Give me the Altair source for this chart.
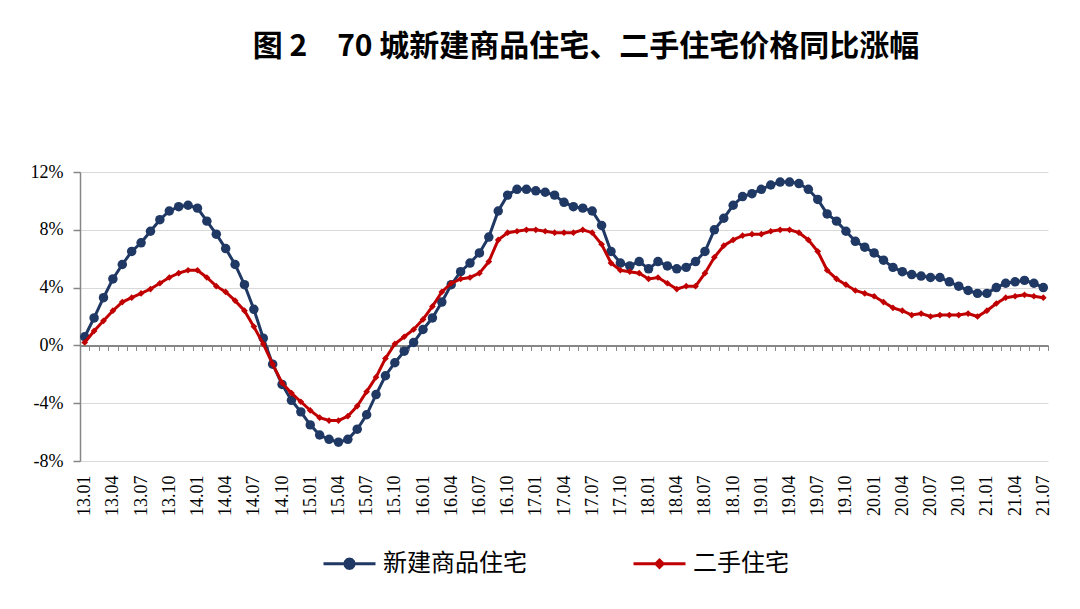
import json
import altair as alt
import pandas as pd

# ---------------- data ----------------
months = [f"{y:02d}.{m:02d}" for y in range(13, 22) for m in range(1, 13)][:103]

new_home = [
    0.6, 1.9, 3.3, 4.6, 5.6, 6.5, 7.1, 7.9, 8.7, 9.3, 9.6, 9.7,
    9.5, 8.6, 7.7, 6.7, 5.6, 4.2, 2.5, 0.5, -1.3, -2.7, -3.8, -4.6,
    -5.5, -6.2, -6.5, -6.7, -6.5, -5.8, -4.8, -3.4, -2.1, -1.2, -0.4, 0.2,
    1.1, 1.9, 3.0, 4.2, 5.1, 5.7, 6.4, 7.5, 9.3, 10.4, 10.8, 10.8,
    10.7, 10.6, 10.4, 9.9, 9.6, 9.5, 9.3, 8.3, 6.5, 5.7, 5.5, 5.8,
    5.3, 5.8, 5.5, 5.3, 5.4, 5.8, 6.5, 8.0, 8.8, 9.7, 10.3, 10.5,
    10.8, 11.1, 11.3, 11.3, 11.2, 10.8, 10.1, 9.1, 8.6, 7.9, 7.2, 6.8,
    6.4, 5.9, 5.4, 5.1, 4.9, 4.8, 4.7, 4.7, 4.4, 4.1, 3.8, 3.6,
    3.6, 4.0, 4.3, 4.4, 4.5, 4.3, 4.0,
]

second_hand = [
    0.2, 1.0, 1.7, 2.4, 3.0, 3.3, 3.6, 3.9, 4.3, 4.7, 5.0, 5.2,
    5.2, 4.7, 4.1, 3.7, 3.1, 2.4, 1.3, 0.1, -1.3, -2.6, -3.3, -3.9,
    -4.5, -5.0, -5.2, -5.2, -4.9, -4.2, -3.2, -2.2, -0.9, 0.1, 0.6, 1.1,
    1.8, 2.7, 3.7, 4.3, 4.6, 4.7, 5.0, 5.8, 7.3, 7.8, 7.9, 8.0,
    8.0, 7.9, 7.8, 7.8, 7.8, 8.0, 7.8, 7.0, 5.7, 5.2, 5.1, 5.0,
    4.6, 4.7, 4.3, 3.9, 4.1, 4.1, 5.0, 6.1, 6.9, 7.3, 7.6, 7.7,
    7.7, 7.9, 8.0, 8.0, 7.8, 7.3, 6.5, 5.2, 4.6, 4.2, 3.8, 3.6,
    3.4, 3.0, 2.6, 2.4, 2.1, 2.2, 2.0, 2.1, 2.1, 2.1, 2.2, 2.0,
    2.4, 2.9, 3.3, 3.4, 3.5, 3.4, 3.3,
]

series_names = ["新建商品住宅", "二手住宅"]
series_colors = ["#1F3864", "#C00000"]
y_ticks = [-8, -4, 0, 4, 8, 12]
label_positions = list(range(0, len(months), 3))
title_text = "图 2　70 城新建商品住宅、二手住宅价格同比涨幅"

n = len(months)
df = pd.DataFrame({
    "idx": list(range(n)) * 2,
    "month": months * 2,
    "value": new_home + second_hand,
    "series": [series_names[0]] * n + [series_names[1]] * n,
})

# ---------------- layout / style ----------------
W, H = 968, 289
YMIN, YMAX = y_ticks[0], y_ticks[-1]
zero_offset = -H * (0 - YMIN) / (YMAX - YMIN)
GRAY = "#868686"
SERIF = "Liberation Serif"
CJK = "Noto Sans CJK SC"

x_scale = alt.Scale(domain=[-0.5, n - 0.5], nice=False, zero=False)
y_scale = alt.Scale(domain=[YMIN, YMAX], nice=False, zero=False)

tick_axis = alt.Axis(
    orient="bottom", offset=zero_offset,
    values=[i - 0.5 for i in range(n + 1)],
    labels=False, ticks=True, tickSize=5, tickColor=GRAY, tickWidth=1,
    domain=True, domainColor=GRAY, domainWidth=2, grid=False,
)
label_axis = alt.Axis(
    orient="bottom", values=label_positions,
    labelExpr=f"{json.dumps(months)}[datum.value]",
    labelAngle=-90, labelAlign="right", labelBaseline="middle",
    labelFont=SERIF, labelFontSize=18, labelColor="black", labelPadding=14,
    labelOverlap=False, labelFlush=False,
    ticks=False, domain=False, grid=False,
)
y_axis = alt.Axis(
    values=y_ticks, labelExpr="datum.value + '%'",
    grid=True, gridColor="#D9D9D9", gridWidth=1,
    domain=True, domainColor=GRAY, domainWidth=1.5,
    ticks=True, tickSize=7, tickColor=GRAY, tickWidth=1.5,
    labelFont=SERIF, labelFontSize=18, labelColor="black", labelPadding=10,
)
y_enc = alt.Y("value:Q", scale=y_scale, title=None, axis=y_axis)

# legend symbols: a line segment with the series marker on it
blue_path = ("M-1,0L1,0M0.18,0L0.156,0.09L0.09,0.156L0,0.18L-0.09,0.156L-0.156,0.09"
             "L-0.18,0L-0.156,-0.09L-0.09,-0.156L0,-0.18L0.09,-0.156L0.156,-0.09Z")
red_path = "M-1,0L1,0M0,-0.14L0.14,0L0,0.14L-0.14,0Z"
legend = alt.Legend(
    orient="none", legendX=242, legendY=364, direction="horizontal", title=None,
    symbolSize=2704, symbolStrokeWidth=3, symbolOpacity=1,
    labelFont=CJK, labelFontSize=24, labelColor="black", labelOffset=6,
    columnPadding=100, padding=0,
)
color_scale = alt.Scale(domain=series_names, range=series_colors)
color_enc = alt.Color("series:N", scale=color_scale, legend=None)

base = alt.Chart(df)
layers = []

# legend-carrying layer (marks invisible; only its legend is shown)
legend_layer = base.mark_point(filled=True, strokeWidth=3).encode(
    x=alt.X("idx:Q", scale=x_scale, axis=None),
    y=y_enc,
    fill=alt.Fill("series:N", scale=alt.Scale(domain=series_names, range=series_colors), legend=legend),
    stroke=alt.Stroke("series:N", scale=alt.Scale(domain=series_names, range=series_colors), legend=legend),
    shape=alt.Shape("series:N", scale=alt.Scale(domain=series_names, range=[blue_path, red_path]), legend=legend),
    opacity=alt.value(0),
)
layers.append(legend_layer)

shapes = ["circle", "diamond"]
sizes = [90, 45]
for k, name in enumerate(series_names):
    sub = base.transform_filter(alt.datum.series == name)
    x_axis = tick_axis if k == 0 else label_axis
    line = sub.mark_line(strokeWidth=3).encode(
        x=alt.X("idx:Q", scale=x_scale, axis=x_axis, title=None),
        y=y_enc,
        color=color_enc,
    )
    pts = sub.mark_point(filled=True, shape=shapes[k], size=sizes[k], opacity=1).encode(
        x=alt.X("idx:Q", scale=x_scale, axis=None),
        y=y_enc,
        color=color_enc,
    )
    layers += [line, pts]

chart = alt.layer(*layers).resolve_axis(x="independent").properties(
    width=W, height=H,
    padding={"left": 72, "top": 164, "right": 20, "bottom": 120},
    autosize=alt.AutoSizeParams(type="none"),
    background="white",
    title=alt.Title(
        text=title_text, font=CJK, fontSize=30, fontWeight="bold", color="black",
        anchor="middle", dx=22, offset=101,
    ),
).configure_view(strokeWidth=0)

chart.save("out.html", embed_options={"renderer": "svg", "actions": False})
